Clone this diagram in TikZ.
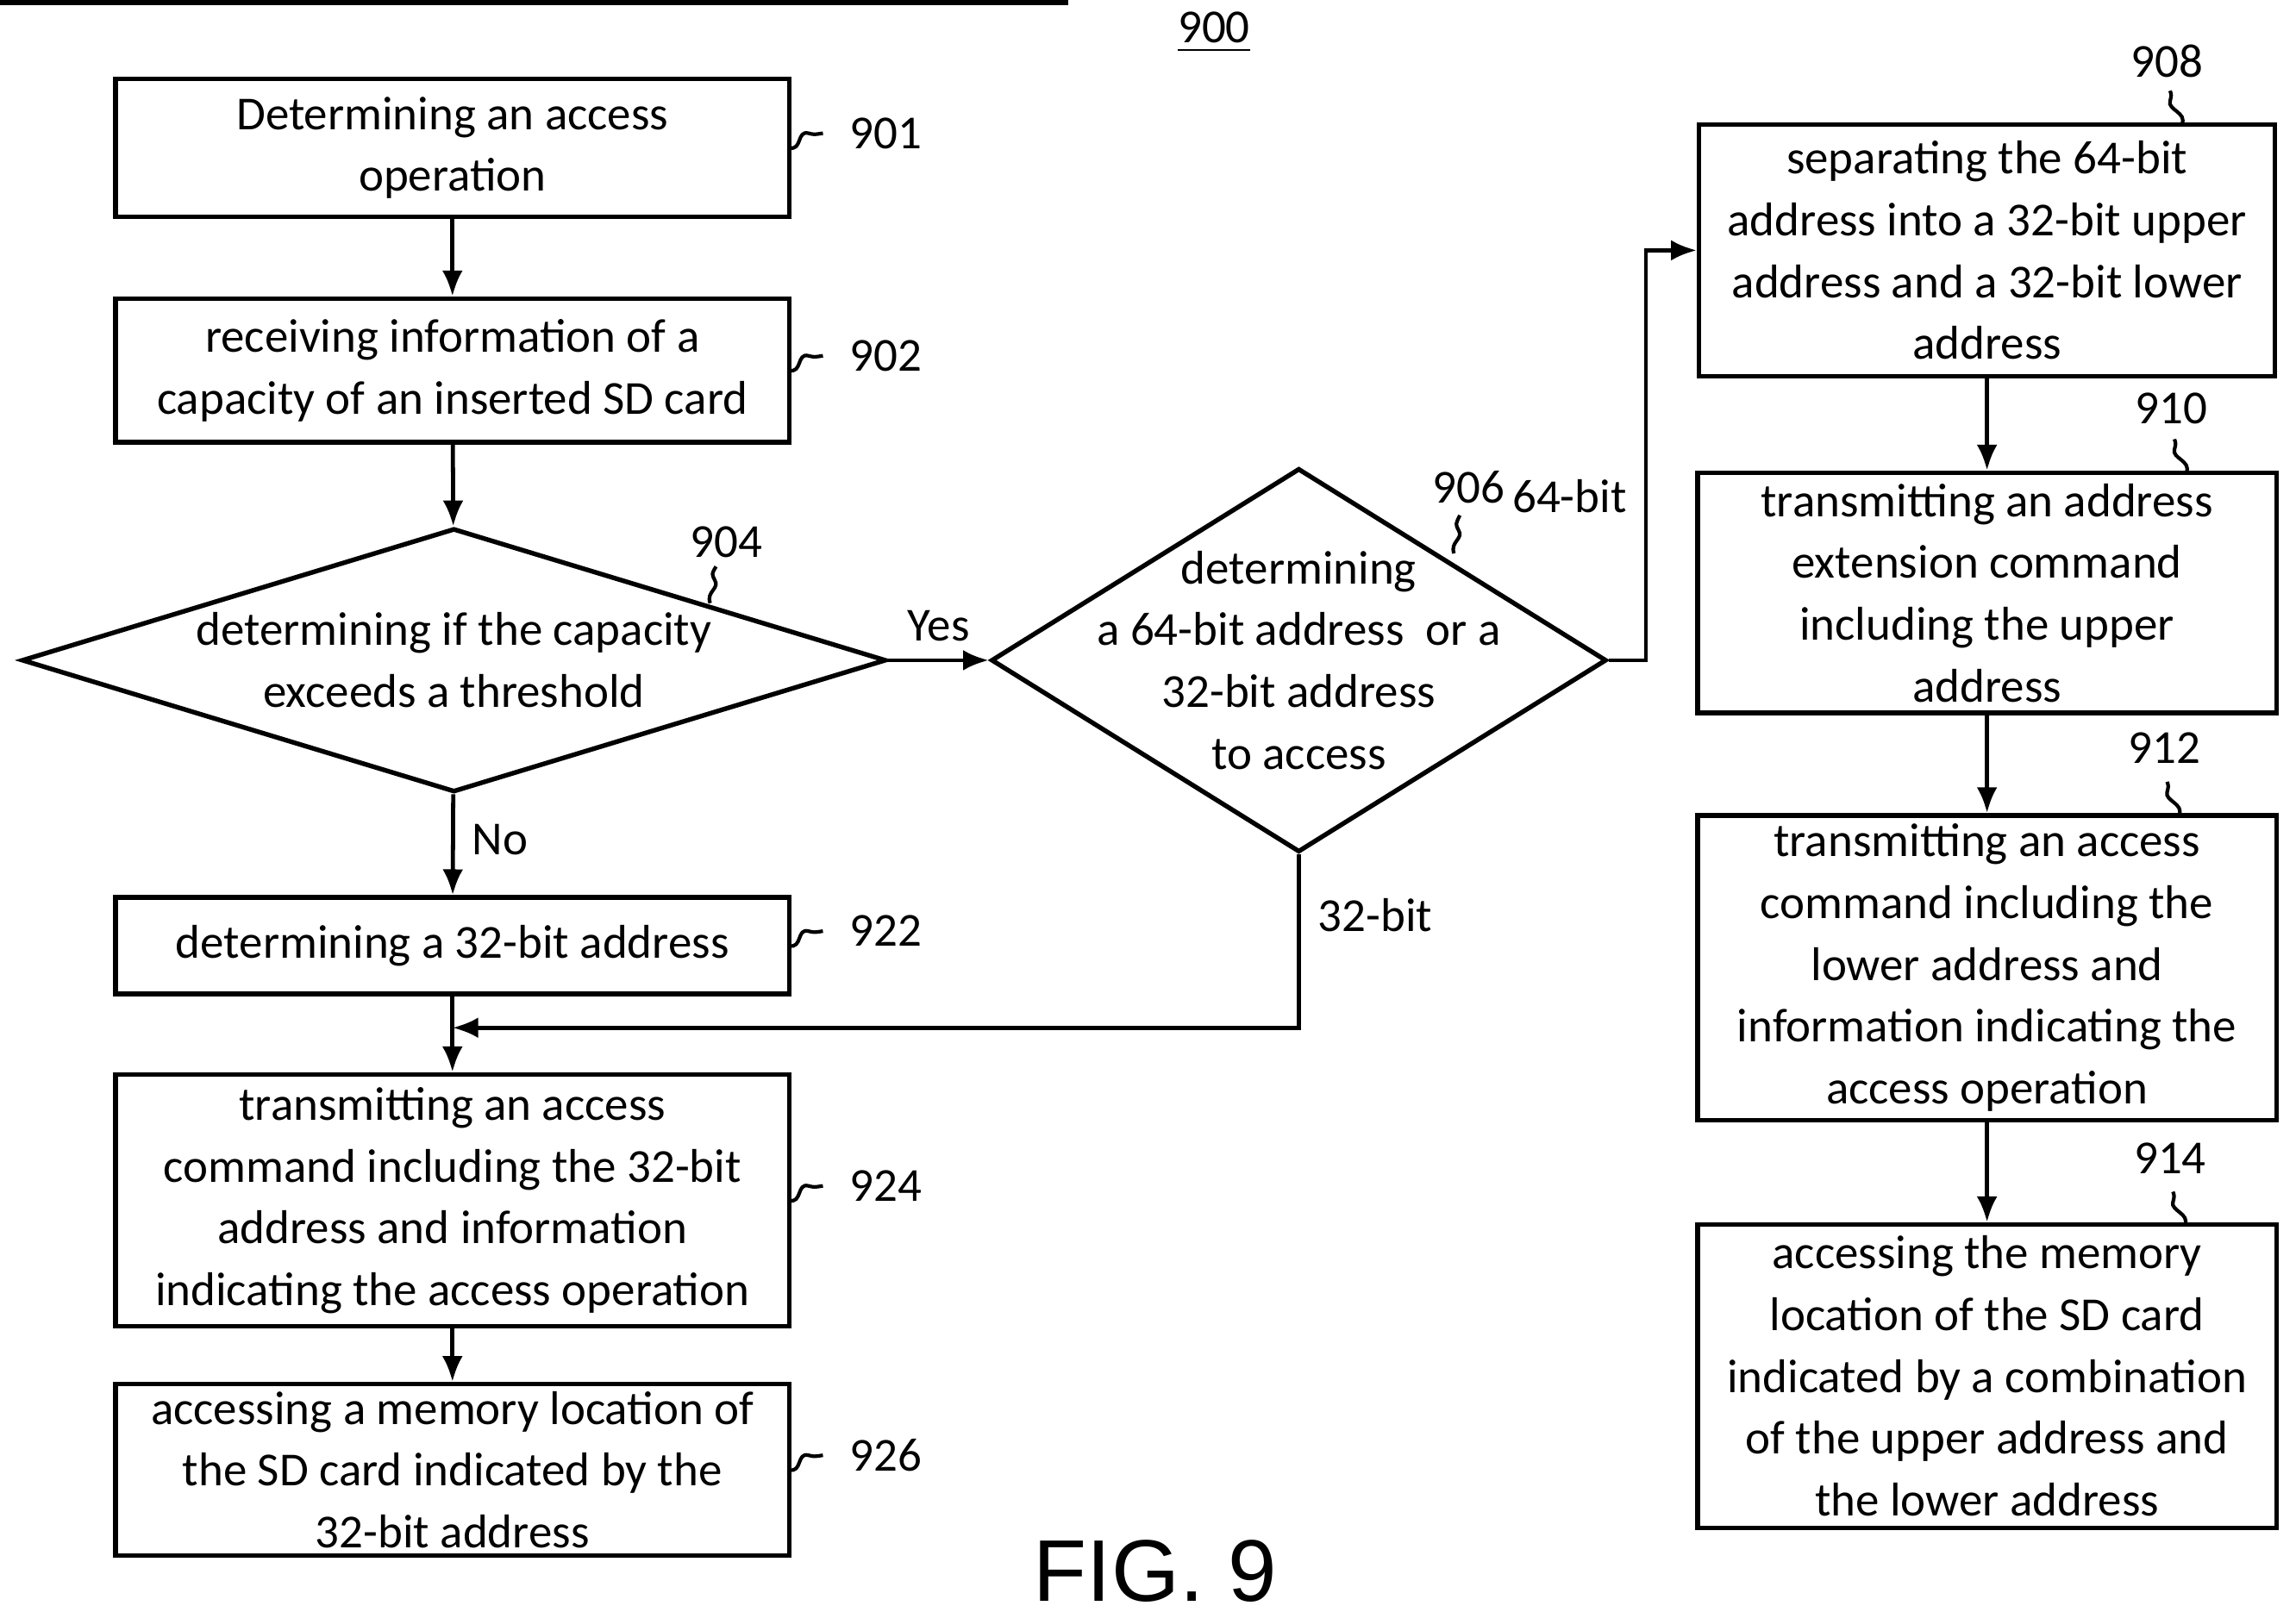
\documentclass[tikz,border=0pt]{standalone}
\usepackage{fontspec}
\setmainfont{Carlito}
\newfontfamily\arialf{Liberation Sans}
\usetikzlibrary{shapes.geometric,arrows.meta}
\begin{document}
\begin{tikzpicture}[x=0.01cm,y=-0.01cm,
  font=\fontsize{9.2}{12}\selectfont,
  box/.style={draw,line width=0.9pt,inner sep=0pt,align=center},
  arr/.style={draw,line width=0.8pt,-{Latex[length=5pt,width=4pt]}},
  sq/.style={line width=0.7pt}]
\useasboundingbox (0,0) rectangle (1568,1101);
\node[box,minimum width=460\pgflinewidth] at (0,0) {};
\node[box,minimum width=4.6cm,minimum height=0.94cm] (n901) at (309,101) {Determining an access\\operation};
\node[box,minimum width=4.6cm,minimum height=0.98cm] (n902) at (309,253) {receiving information of a\\capacity of an inserted SD card};
\node[box,diamond,aspect=3.28,minimum width=5.9cm,minimum height=1.8cm,inner sep=0pt] (n904) at (310,451) {};
\node[align=center] at (310,451) {determining if the capacity\\exceeds a threshold};
\node[box,minimum width=4.6cm,minimum height=0.66cm] (n922) at (309,646) {determining a 32-bit address};
\node[box,minimum width=4.6cm,minimum height=1.72cm] (n924) at (309,820) {transmitting an access\\command including the 32-bit\\address and information\\indicating the access operation};
\node[box,minimum width=4.6cm,minimum height=1.17cm] (n926) at (309,1004) {accessing a memory location of\\the SD card indicated by the\\32-bit address};
\node[box,diamond,aspect=1.6,minimum width=4.2cm,minimum height=2.62cm,inner sep=0pt] (n906) at (887,451) {};
\node[align=center] at (887,451) {determining\\a 64-bit address~ or a\\32-bit address\\to access};
\node[box,minimum width=3.93cm,minimum height=1.72cm] (n908) at (1357,171) {separating the 64-bit\\address into a 32-bit upper\\address and a 32-bit lower\\address};
\node[box,minimum width=3.95cm,minimum height=1.64cm] (n910) at (1357,405) {transmitting an address\\extension command\\including the upper\\address};
\node[box,minimum width=3.95cm,minimum height=2.08cm] (n912) at (1357,661) {transmitting an access\\command including the\\lower address and\\information indicating the\\access operation};
\node[box,minimum width=3.95cm,minimum height=2.07cm] (n914) at (1357,940) {accessing the memory\\location of the SD card\\indicated by a combination\\of the upper address and\\the lower address};
% arrows
\draw[arr] (n901) -- (n902);
\draw[arr] (n902) -- (n904);
\draw[arr] (n904) -- node[right,pos=0.45] {No} (n922);
\draw[arr] (n904.east) -- node[above] {Yes} (n906.west);
\coordinate (c64) at (1124,451);
\coordinate (c64b) at (1124,171);
\draw[arr] (n906.east) -- (c64) -- node[left,pos=0.4] {64-bit} (c64b) -- (n908.west);
\coordinate (c32) at (887,702);
\coordinate (cj) at (309,702);
\draw[arr] (n906.south) -- node[right,pos=0.35] {32-bit} (c32) -- (cj);
\draw[arr] (n922) -- (n924);
\draw[arr] (n924) -- (n926);
\draw[arr] (n908) -- (n910);
\draw[arr] (n910) -- (n912);
\draw[arr] (n912) -- (n914);
% reference labels
\foreach \y/\t in {101/901,253/902,646/922,820/924,1004/926}{
  \draw[sq] (539,\y) .. controls (548,\y+2) and (544,\y-12) .. (552,\y-10) .. controls (556,\y-9) .. (562,\y-10);
  \node[anchor=west] at (568,\y-10) {\t};
}
\node (l904) at (496,370) {904};
\draw[sq] (485,412) .. controls (482,404) and (492,402) .. (488,396) .. controls (486,392) .. (489,387);
\node (l906) at (1003,333) {906};
\draw[sq] (993,378) .. controls (990,370) and (1000,368) .. (996,362) .. controls (994,358) .. (997,352);
\foreach \x/\yt/\yb/\t in {1480/42/85/908,1483/279/323/910,1478/511/557/912,1482/791/837/914}{
  \node at (\x,\yt) {\t};
  \draw[sq] (\x+10,\yb) .. controls (\x+14,\yb-8) and (\x,\yb-10) .. (\x+2,\yb-16) .. controls (\x+3,\yb-20) .. (\x+2,\yb-23);
}
\node at (829,22) {\underline{900}};
\node at (789,1073) {\arialf\fontsize{17}{20}\selectfont FIG. 9};
\end{tikzpicture}
\end{document}
